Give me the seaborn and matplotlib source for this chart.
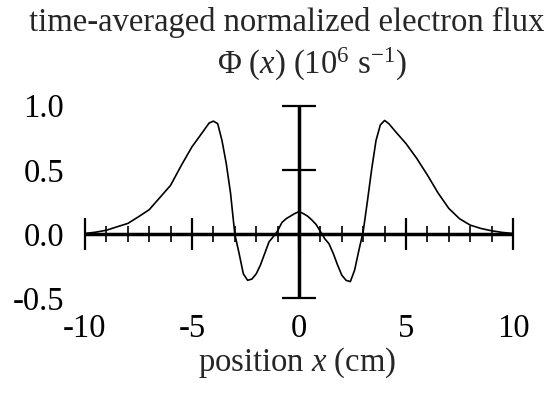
import numpy as np
import pandas as pd
import seaborn as sns
import matplotlib.pyplot as plt

# flux curve (x in cm, flux in 10^6 /s)
position = [-10, -9.5, -9, -8.5, -8, -7.5, -7, -6.5, -6, -5.5, -5, -4.5, -4.2, -4.0,
            -3.8, -3.6, -3.4, -3.2, -3.0, -2.8, -2.6, -2.4, -2.2, -2.0, -1.8, -1.6,
            -1.4, -1.2, -1.0, -0.8, -0.6, -0.4, -0.2, 0.0,
            0.2, 0.4, 0.6, 0.8, 1.0, 1.2, 1.4, 1.6, 1.8, 2.0, 2.2, 2.4, 2.6, 2.8,
            3.0, 3.2, 3.4, 3.6, 3.8, 4.0, 4.2, 4.5, 5, 5.5, 6, 6.5, 7, 7.5, 8,
            8.5, 9, 9.5, 10]
flux = [0.005, 0.015, 0.03, 0.057, 0.083, 0.135, 0.19, 0.285, 0.38, 0.535, 0.68, 0.795, 0.865, 0.88,
        0.86, 0.73, 0.55, 0.32, 0.0, -0.15, -0.31, -0.36, -0.35, -0.31, -0.24, -0.15,
        -0.06, -0.02, 0.025, 0.09, 0.12, 0.14, 0.16, 0.175,
        0.16, 0.14, 0.11, 0.075, 0.02, -0.035, -0.075, -0.15, -0.24, -0.32, -0.36, -0.37, -0.28, -0.125,
        0.02, 0.26, 0.51, 0.73, 0.85, 0.885, 0.86, 0.80, 0.705, 0.59, 0.46, 0.32, 0.20, 0.12, 0.07,
        0.044, 0.026, 0.013, 0.005]

x_major = [-10, -5, 0, 5, 10]
x_labels = ['-10', '-5', '0', '5', '10']
x_minor = [v for v in range(-10, 11) if v % 5 != 0]
y_ticks = [-0.5, 0.0, 0.5, 1.0]
y_labels = ['-0.5', '0.0', '0.5', '1.0']

sns.set_style('white')
plt.rcParams['font.family'] = ['Liberation Serif', 'DejaVu Serif']
plt.rcParams['mathtext.fontset'] = 'custom'
plt.rcParams['mathtext.rm'] = 'Liberation Serif'
plt.rcParams['mathtext.it'] = 'Liberation Serif:italic'
plt.rcParams['axes.unicode_minus'] = False

FS = 23.5
W, H = 547, 403
fig = plt.figure(figsize=(W / 100, H / 100), dpi=100)
ax = fig.add_axes([85 / W, 1 - 298.3 / H, 428 / W, (298.3 - 105.7) / H])

df = pd.DataFrame({'x': position, 'phi': flux})
sns.lineplot(data=df, x='x', y='phi', color='black', lw=1.2, sort=False, ax=ax)

ax.set_xlim(-10, 10)
ax.set_ylim(-0.5, 1.0)
for s in ax.spines.values():
    s.set_visible(False)
ax.set_xticks(x_major)
ax.set_xticklabels(x_labels)
ax.set_yticks(y_ticks)
ax.set_yticklabels(y_labels)
ax.tick_params(length=0, labelsize=FS, colors='black')
ax.tick_params(axis='y', pad=15)
ax.tick_params(axis='x', pad=11)
ax.set_xlabel('')
ax.set_ylabel('')

# axes crossing at the origin, with their tick marks
ax.axhline(0, color='black', lw=2.5)
ax.vlines(0, -0.5, 1.0, color='black', lw=2.5)
ax.vlines(x_minor, -0.062, 0.062, color='black', lw=1.2, clip_on=False)
ax.vlines(x_major, -0.125, 0.125, color='black', lw=1.6, clip_on=False)
ax.hlines([-0.5, 0.5, 1.0], -0.8, 0.8, color='black', lw=1.6, clip_on=False)

fig.text(287 / W, 1 - 22 / H, 'time-averaged normalized electron flux',
         ha='center', va='center', fontsize=FS)
fig.text(312 / W, 1 - 64 / H, r'$\Phi\ (x)$ ($10^6$ s$^{-1}$)',
         ha='center', va='center', fontsize=FS)
fig.text(297 / W, 1 - 363 / H, r'position $x$ (cm)',
         ha='center', va='center', fontsize=FS)

fig.savefig('out.png', dpi=100)
